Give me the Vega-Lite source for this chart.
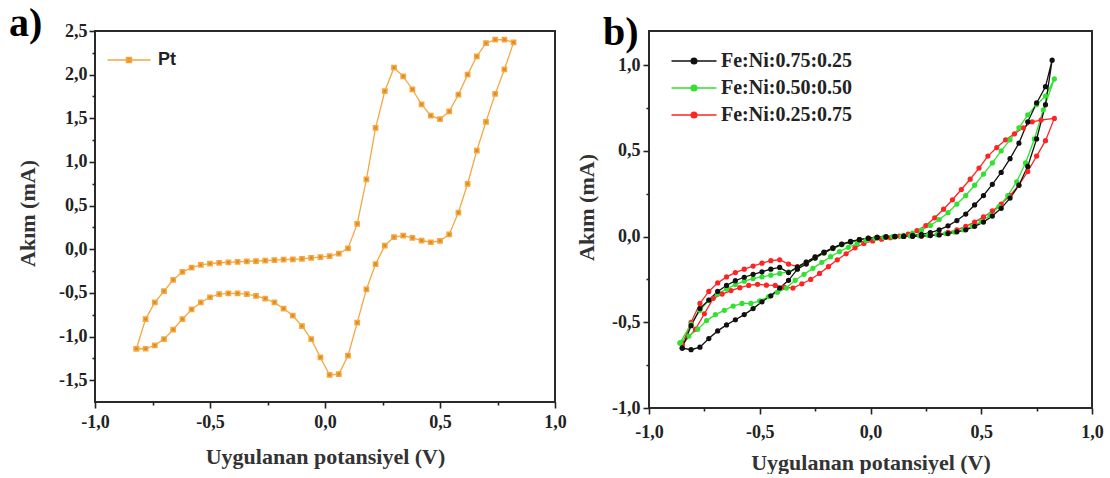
{
  "$schema": "https://vega.github.io/schema/vega-lite/v6.json",
  "background": "white",
  "padding": {"left": 8, "top": 3, "right": 0, "bottom": 0},
  "config": {
    "font": "Liberation Serif",
    "view": {"stroke": "#2a2a2a", "strokeWidth": 2},
    "axis": {
      "labelFont": "Liberation Serif", "labelFontSize": 18, "labelFontWeight": "bold", "labelColor": "#222",
      "titleFont": "Liberation Serif", "titleFontSize": 22, "titleFontWeight": "bold", "titleColor": "#333",
      "domain": false, "grid": false, "tickColor": "#222", "tickWidth": 1.6,
      "labelOverlap": false, "labelFlush": false, "labelBound": false
    },
    "legend": {
      "labelFont": "Liberation Serif", "labelFontSize": 20, "labelFontWeight": "bold", "labelColor": "#222",
      "padding": 0, "symbolStrokeWidth": 1.5
    },
    "title": {
      "font": "Liberation Serif", "fontSize": 40, "fontWeight": "bold", "color": "#000",
      "anchor": "start", "frame": "group", "baseline": "alphabetic"
    }
  },
  "datasets": {
    "pt": [
      {"s":"Pt","i":0,"v":-0.82,"c":-1.14},{"s":"Pt","i":1,"v":-0.78,"c":-0.80},{"s":"Pt","i":2,"v":-0.74,"c":-0.61},{"s":"Pt","i":3,"v":-0.70,"c":-0.48},
      {"s":"Pt","i":4,"v":-0.66,"c":-0.35},{"s":"Pt","i":5,"v":-0.62,"c":-0.26},{"s":"Pt","i":6,"v":-0.58,"c":-0.21},{"s":"Pt","i":7,"v":-0.54,"c":-0.18},
      {"s":"Pt","i":8,"v":-0.50,"c":-0.165},{"s":"Pt","i":9,"v":-0.46,"c":-0.155},{"s":"Pt","i":10,"v":-0.42,"c":-0.15},{"s":"Pt","i":11,"v":-0.38,"c":-0.145},
      {"s":"Pt","i":12,"v":-0.34,"c":-0.14},{"s":"Pt","i":13,"v":-0.30,"c":-0.135},{"s":"Pt","i":14,"v":-0.26,"c":-0.13},{"s":"Pt","i":15,"v":-0.22,"c":-0.125},
      {"s":"Pt","i":16,"v":-0.18,"c":-0.12},{"s":"Pt","i":17,"v":-0.14,"c":-0.115},{"s":"Pt","i":18,"v":-0.10,"c":-0.11},{"s":"Pt","i":19,"v":-0.06,"c":-0.10},
      {"s":"Pt","i":20,"v":-0.02,"c":-0.09},{"s":"Pt","i":21,"v":0.02,"c":-0.08},{"s":"Pt","i":22,"v":0.06,"c":-0.05},{"s":"Pt","i":23,"v":0.10,"c":0.01},
      {"s":"Pt","i":24,"v":0.14,"c":0.29},{"s":"Pt","i":25,"v":0.18,"c":0.80},{"s":"Pt","i":26,"v":0.22,"c":1.39},{"s":"Pt","i":27,"v":0.26,"c":1.81},
      {"s":"Pt","i":28,"v":0.30,"c":2.08},{"s":"Pt","i":29,"v":0.34,"c":1.98},{"s":"Pt","i":30,"v":0.38,"c":1.83},{"s":"Pt","i":31,"v":0.42,"c":1.66},
      {"s":"Pt","i":32,"v":0.46,"c":1.53},{"s":"Pt","i":33,"v":0.50,"c":1.49},{"s":"Pt","i":34,"v":0.54,"c":1.58},{"s":"Pt","i":35,"v":0.58,"c":1.77},
      {"s":"Pt","i":36,"v":0.62,"c":2.00},{"s":"Pt","i":37,"v":0.66,"c":2.21},{"s":"Pt","i":38,"v":0.70,"c":2.36},{"s":"Pt","i":39,"v":0.74,"c":2.40},
      {"s":"Pt","i":40,"v":0.78,"c":2.40},{"s":"Pt","i":41,"v":0.82,"c":2.37},{"s":"Pt","i":42,"v":0.78,"c":2.06},{"s":"Pt","i":43,"v":0.74,"c":1.78},
      {"s":"Pt","i":44,"v":0.70,"c":1.46},{"s":"Pt","i":45,"v":0.66,"c":1.13},{"s":"Pt","i":46,"v":0.62,"c":0.75},{"s":"Pt","i":47,"v":0.58,"c":0.42},
      {"s":"Pt","i":48,"v":0.54,"c":0.17},{"s":"Pt","i":49,"v":0.50,"c":0.095},{"s":"Pt","i":50,"v":0.46,"c":0.08},{"s":"Pt","i":51,"v":0.42,"c":0.10},
      {"s":"Pt","i":52,"v":0.38,"c":0.13},{"s":"Pt","i":53,"v":0.34,"c":0.155},{"s":"Pt","i":54,"v":0.30,"c":0.14},{"s":"Pt","i":55,"v":0.26,"c":0.04},
      {"s":"Pt","i":56,"v":0.22,"c":-0.17},{"s":"Pt","i":57,"v":0.18,"c":-0.46},{"s":"Pt","i":58,"v":0.14,"c":-0.84},{"s":"Pt","i":59,"v":0.10,"c":-1.22},
      {"s":"Pt","i":60,"v":0.06,"c":-1.43},{"s":"Pt","i":61,"v":0.02,"c":-1.44},{"s":"Pt","i":62,"v":-0.02,"c":-1.24},{"s":"Pt","i":63,"v":-0.06,"c":-1.03},
      {"s":"Pt","i":64,"v":-0.10,"c":-0.88},{"s":"Pt","i":65,"v":-0.14,"c":-0.76},{"s":"Pt","i":66,"v":-0.18,"c":-0.68},{"s":"Pt","i":67,"v":-0.22,"c":-0.61},
      {"s":"Pt","i":68,"v":-0.26,"c":-0.565},{"s":"Pt","i":69,"v":-0.30,"c":-0.535},{"s":"Pt","i":70,"v":-0.34,"c":-0.515},{"s":"Pt","i":71,"v":-0.38,"c":-0.505},
      {"s":"Pt","i":72,"v":-0.42,"c":-0.505},{"s":"Pt","i":73,"v":-0.46,"c":-0.515},{"s":"Pt","i":74,"v":-0.50,"c":-0.55},{"s":"Pt","i":75,"v":-0.54,"c":-0.61},
      {"s":"Pt","i":76,"v":-0.58,"c":-0.69},{"s":"Pt","i":77,"v":-0.62,"c":-0.80},{"s":"Pt","i":78,"v":-0.66,"c":-0.92},{"s":"Pt","i":79,"v":-0.70,"c":-1.03},
      {"s":"Pt","i":80,"v":-0.74,"c":-1.10},{"s":"Pt","i":81,"v":-0.78,"c":-1.14},{"s":"Pt","i":82,"v":-0.82,"c":-1.14}
    ],
    "feni": [
      {"s":"Fe:Ni:0.25:0.75","i":0,"v":-0.85,"c":-0.63},{"s":"Fe:Ni:0.25:0.75","i":1,"v":-0.81,"c":-0.50},{"s":"Fe:Ni:0.25:0.75","i":2,"v":-0.77,"c":-0.39},
      {"s":"Fe:Ni:0.25:0.75","i":3,"v":-0.73,"c":-0.32},{"s":"Fe:Ni:0.25:0.75","i":4,"v":-0.69,"c":-0.27},{"s":"Fe:Ni:0.25:0.75","i":5,"v":-0.65,"c":-0.235},
      {"s":"Fe:Ni:0.25:0.75","i":6,"v":-0.61,"c":-0.21},{"s":"Fe:Ni:0.25:0.75","i":7,"v":-0.57,"c":-0.19},{"s":"Fe:Ni:0.25:0.75","i":8,"v":-0.53,"c":-0.172},
      {"s":"Fe:Ni:0.25:0.75","i":9,"v":-0.49,"c":-0.155},{"s":"Fe:Ni:0.25:0.75","i":10,"v":-0.45,"c":-0.14},{"s":"Fe:Ni:0.25:0.75","i":11,"v":-0.41,"c":-0.135},
      {"s":"Fe:Ni:0.25:0.75","i":12,"v":-0.37,"c":-0.16},{"s":"Fe:Ni:0.25:0.75","i":13,"v":-0.33,"c":-0.175},{"s":"Fe:Ni:0.25:0.75","i":14,"v":-0.29,"c":-0.148},
      {"s":"Fe:Ni:0.25:0.75","i":15,"v":-0.25,"c":-0.12},{"s":"Fe:Ni:0.25:0.75","i":16,"v":-0.21,"c":-0.093},{"s":"Fe:Ni:0.25:0.75","i":17,"v":-0.17,"c":-0.067},
      {"s":"Fe:Ni:0.25:0.75","i":18,"v":-0.13,"c":-0.045},{"s":"Fe:Ni:0.25:0.75","i":19,"v":-0.09,"c":-0.03},{"s":"Fe:Ni:0.25:0.75","i":20,"v":-0.05,"c":-0.018},
      {"s":"Fe:Ni:0.25:0.75","i":21,"v":-0.01,"c":-0.01},{"s":"Fe:Ni:0.25:0.75","i":22,"v":0.03,"c":-0.005},{"s":"Fe:Ni:0.25:0.75","i":23,"v":0.07,"c":-0.002},
      {"s":"Fe:Ni:0.25:0.75","i":24,"v":0.11,"c":0.0},{"s":"Fe:Ni:0.25:0.75","i":25,"v":0.15,"c":0.001},{"s":"Fe:Ni:0.25:0.75","i":26,"v":0.19,"c":0.002},
      {"s":"Fe:Ni:0.25:0.75","i":27,"v":0.23,"c":0.004},{"s":"Fe:Ni:0.25:0.75","i":28,"v":0.27,"c":0.008},{"s":"Fe:Ni:0.25:0.75","i":29,"v":0.31,"c":0.015},
      {"s":"Fe:Ni:0.25:0.75","i":30,"v":0.35,"c":0.025},{"s":"Fe:Ni:0.25:0.75","i":31,"v":0.39,"c":0.04},{"s":"Fe:Ni:0.25:0.75","i":32,"v":0.43,"c":0.06},
      {"s":"Fe:Ni:0.25:0.75","i":33,"v":0.47,"c":0.085},{"s":"Fe:Ni:0.25:0.75","i":34,"v":0.51,"c":0.115},{"s":"Fe:Ni:0.25:0.75","i":35,"v":0.55,"c":0.15},
      {"s":"Fe:Ni:0.25:0.75","i":36,"v":0.59,"c":0.19},{"s":"Fe:Ni:0.25:0.75","i":37,"v":0.63,"c":0.24},{"s":"Fe:Ni:0.25:0.75","i":38,"v":0.67,"c":0.30},
      {"s":"Fe:Ni:0.25:0.75","i":39,"v":0.71,"c":0.38},{"s":"Fe:Ni:0.25:0.75","i":40,"v":0.75,"c":0.47},{"s":"Fe:Ni:0.25:0.75","i":41,"v":0.79,"c":0.56},
      {"s":"Fe:Ni:0.25:0.75","i":42,"v":0.83,"c":0.69},{"s":"Fe:Ni:0.25:0.75","i":43,"v":0.77,"c":0.68},{"s":"Fe:Ni:0.25:0.75","i":44,"v":0.73,"c":0.67},
      {"s":"Fe:Ni:0.25:0.75","i":45,"v":0.69,"c":0.635},{"s":"Fe:Ni:0.25:0.75","i":46,"v":0.65,"c":0.60},{"s":"Fe:Ni:0.25:0.75","i":47,"v":0.61,"c":0.565},
      {"s":"Fe:Ni:0.25:0.75","i":48,"v":0.57,"c":0.52},{"s":"Fe:Ni:0.25:0.75","i":49,"v":0.53,"c":0.47},{"s":"Fe:Ni:0.25:0.75","i":50,"v":0.49,"c":0.40},
      {"s":"Fe:Ni:0.25:0.75","i":51,"v":0.45,"c":0.335},{"s":"Fe:Ni:0.25:0.75","i":52,"v":0.41,"c":0.275},{"s":"Fe:Ni:0.25:0.75","i":53,"v":0.37,"c":0.215},
      {"s":"Fe:Ni:0.25:0.75","i":54,"v":0.33,"c":0.16},{"s":"Fe:Ni:0.25:0.75","i":55,"v":0.29,"c":0.11},{"s":"Fe:Ni:0.25:0.75","i":56,"v":0.25,"c":0.065},
      {"s":"Fe:Ni:0.25:0.75","i":57,"v":0.21,"c":0.035},{"s":"Fe:Ni:0.25:0.75","i":58,"v":0.17,"c":0.015},{"s":"Fe:Ni:0.25:0.75","i":59,"v":0.13,"c":0.003},
      {"s":"Fe:Ni:0.25:0.75","i":60,"v":0.09,"c":-0.006},{"s":"Fe:Ni:0.25:0.75","i":61,"v":0.05,"c":-0.015},{"s":"Fe:Ni:0.25:0.75","i":62,"v":0.01,"c":-0.025},
      {"s":"Fe:Ni:0.25:0.75","i":63,"v":-0.03,"c":-0.04},{"s":"Fe:Ni:0.25:0.75","i":64,"v":-0.07,"c":-0.065},{"s":"Fe:Ni:0.25:0.75","i":65,"v":-0.11,"c":-0.10},
      {"s":"Fe:Ni:0.25:0.75","i":66,"v":-0.15,"c":-0.135},{"s":"Fe:Ni:0.25:0.75","i":67,"v":-0.19,"c":-0.175},{"s":"Fe:Ni:0.25:0.75","i":68,"v":-0.23,"c":-0.215},
      {"s":"Fe:Ni:0.25:0.75","i":69,"v":-0.27,"c":-0.25},{"s":"Fe:Ni:0.25:0.75","i":70,"v":-0.31,"c":-0.275},{"s":"Fe:Ni:0.25:0.75","i":71,"v":-0.35,"c":-0.30},
      {"s":"Fe:Ni:0.25:0.75","i":72,"v":-0.39,"c":-0.295},{"s":"Fe:Ni:0.25:0.75","i":73,"v":-0.43,"c":-0.285},{"s":"Fe:Ni:0.25:0.75","i":74,"v":-0.47,"c":-0.283},
      {"s":"Fe:Ni:0.25:0.75","i":75,"v":-0.51,"c":-0.278},{"s":"Fe:Ni:0.25:0.75","i":76,"v":-0.55,"c":-0.285},{"s":"Fe:Ni:0.25:0.75","i":77,"v":-0.59,"c":-0.298},
      {"s":"Fe:Ni:0.25:0.75","i":78,"v":-0.63,"c":-0.315},{"s":"Fe:Ni:0.25:0.75","i":79,"v":-0.67,"c":-0.335},{"s":"Fe:Ni:0.25:0.75","i":80,"v":-0.71,"c":-0.36},
      {"s":"Fe:Ni:0.25:0.75","i":81,"v":-0.75,"c":-0.45},{"s":"Fe:Ni:0.25:0.75","i":82,"v":-0.79,"c":-0.54},{"s":"Fe:Ni:0.25:0.75","i":83,"v":-0.85,"c":-0.63},

      {"s":"Fe:Ni:0.50:0.50","i":0,"v":-0.86,"c":-0.62},{"s":"Fe:Ni:0.50:0.50","i":1,"v":-0.82,"c":-0.58},{"s":"Fe:Ni:0.50:0.50","i":2,"v":-0.78,"c":-0.54},
      {"s":"Fe:Ni:0.50:0.50","i":3,"v":-0.74,"c":-0.49},{"s":"Fe:Ni:0.50:0.50","i":4,"v":-0.70,"c":-0.455},{"s":"Fe:Ni:0.50:0.50","i":5,"v":-0.66,"c":-0.43},
      {"s":"Fe:Ni:0.50:0.50","i":6,"v":-0.62,"c":-0.405},{"s":"Fe:Ni:0.50:0.50","i":7,"v":-0.58,"c":-0.39},{"s":"Fe:Ni:0.50:0.50","i":8,"v":-0.54,"c":-0.39},
      {"s":"Fe:Ni:0.50:0.50","i":9,"v":-0.50,"c":-0.375},{"s":"Fe:Ni:0.50:0.50","i":10,"v":-0.46,"c":-0.35},{"s":"Fe:Ni:0.50:0.50","i":11,"v":-0.42,"c":-0.325},
      {"s":"Fe:Ni:0.50:0.50","i":12,"v":-0.38,"c":-0.30},{"s":"Fe:Ni:0.50:0.50","i":13,"v":-0.34,"c":-0.255},{"s":"Fe:Ni:0.50:0.50","i":14,"v":-0.30,"c":-0.22},
      {"s":"Fe:Ni:0.50:0.50","i":15,"v":-0.26,"c":-0.185},{"s":"Fe:Ni:0.50:0.50","i":16,"v":-0.22,"c":-0.15},{"s":"Fe:Ni:0.50:0.50","i":17,"v":-0.18,"c":-0.117},
      {"s":"Fe:Ni:0.50:0.50","i":18,"v":-0.14,"c":-0.087},{"s":"Fe:Ni:0.50:0.50","i":19,"v":-0.10,"c":-0.062},{"s":"Fe:Ni:0.50:0.50","i":20,"v":-0.06,"c":-0.04},
      {"s":"Fe:Ni:0.50:0.50","i":21,"v":-0.02,"c":-0.022},{"s":"Fe:Ni:0.50:0.50","i":22,"v":0.02,"c":-0.01},{"s":"Fe:Ni:0.50:0.50","i":23,"v":0.06,"c":-0.004},
      {"s":"Fe:Ni:0.50:0.50","i":24,"v":0.10,"c":0.0},{"s":"Fe:Ni:0.50:0.50","i":25,"v":0.14,"c":0.002},{"s":"Fe:Ni:0.50:0.50","i":26,"v":0.18,"c":0.004},
      {"s":"Fe:Ni:0.50:0.50","i":27,"v":0.22,"c":0.006},{"s":"Fe:Ni:0.50:0.50","i":28,"v":0.26,"c":0.008},{"s":"Fe:Ni:0.50:0.50","i":29,"v":0.30,"c":0.012},
      {"s":"Fe:Ni:0.50:0.50","i":30,"v":0.34,"c":0.018},{"s":"Fe:Ni:0.50:0.50","i":31,"v":0.38,"c":0.027},{"s":"Fe:Ni:0.50:0.50","i":32,"v":0.42,"c":0.04},
      {"s":"Fe:Ni:0.50:0.50","i":33,"v":0.46,"c":0.06},{"s":"Fe:Ni:0.50:0.50","i":34,"v":0.50,"c":0.088},{"s":"Fe:Ni:0.50:0.50","i":35,"v":0.54,"c":0.125},
      {"s":"Fe:Ni:0.50:0.50","i":36,"v":0.58,"c":0.175},{"s":"Fe:Ni:0.50:0.50","i":37,"v":0.62,"c":0.24},{"s":"Fe:Ni:0.50:0.50","i":38,"v":0.66,"c":0.32},
      {"s":"Fe:Ni:0.50:0.50","i":39,"v":0.70,"c":0.43},{"s":"Fe:Ni:0.50:0.50","i":40,"v":0.74,"c":0.57},{"s":"Fe:Ni:0.50:0.50","i":41,"v":0.78,"c":0.74},
      {"s":"Fe:Ni:0.50:0.50","i":42,"v":0.83,"c":0.92},{"s":"Fe:Ni:0.50:0.50","i":43,"v":0.79,"c":0.82},{"s":"Fe:Ni:0.50:0.50","i":44,"v":0.75,"c":0.77},
      {"s":"Fe:Ni:0.50:0.50","i":45,"v":0.71,"c":0.71},{"s":"Fe:Ni:0.50:0.50","i":46,"v":0.67,"c":0.635},{"s":"Fe:Ni:0.50:0.50","i":47,"v":0.63,"c":0.565},
      {"s":"Fe:Ni:0.50:0.50","i":48,"v":0.59,"c":0.50},{"s":"Fe:Ni:0.50:0.50","i":49,"v":0.55,"c":0.43},{"s":"Fe:Ni:0.50:0.50","i":50,"v":0.51,"c":0.365},
      {"s":"Fe:Ni:0.50:0.50","i":51,"v":0.47,"c":0.30},{"s":"Fe:Ni:0.50:0.50","i":52,"v":0.43,"c":0.24},{"s":"Fe:Ni:0.50:0.50","i":53,"v":0.39,"c":0.19},
      {"s":"Fe:Ni:0.50:0.50","i":54,"v":0.35,"c":0.14},{"s":"Fe:Ni:0.50:0.50","i":55,"v":0.31,"c":0.10},{"s":"Fe:Ni:0.50:0.50","i":56,"v":0.27,"c":0.065},
      {"s":"Fe:Ni:0.50:0.50","i":57,"v":0.23,"c":0.038},{"s":"Fe:Ni:0.50:0.50","i":58,"v":0.19,"c":0.02},{"s":"Fe:Ni:0.50:0.50","i":59,"v":0.15,"c":0.008},
      {"s":"Fe:Ni:0.50:0.50","i":60,"v":0.11,"c":0.002},{"s":"Fe:Ni:0.50:0.50","i":61,"v":0.07,"c":-0.002},{"s":"Fe:Ni:0.50:0.50","i":62,"v":0.03,"c":-0.006},
      {"s":"Fe:Ni:0.50:0.50","i":63,"v":-0.01,"c":-0.012},{"s":"Fe:Ni:0.50:0.50","i":64,"v":-0.05,"c":-0.02},{"s":"Fe:Ni:0.50:0.50","i":65,"v":-0.09,"c":-0.032},
      {"s":"Fe:Ni:0.50:0.50","i":66,"v":-0.13,"c":-0.048},{"s":"Fe:Ni:0.50:0.50","i":67,"v":-0.17,"c":-0.07},{"s":"Fe:Ni:0.50:0.50","i":68,"v":-0.21,"c":-0.095},
      {"s":"Fe:Ni:0.50:0.50","i":69,"v":-0.25,"c":-0.125},{"s":"Fe:Ni:0.50:0.50","i":70,"v":-0.29,"c":-0.155},{"s":"Fe:Ni:0.50:0.50","i":71,"v":-0.33,"c":-0.185},
      {"s":"Fe:Ni:0.50:0.50","i":72,"v":-0.37,"c":-0.205},{"s":"Fe:Ni:0.50:0.50","i":73,"v":-0.41,"c":-0.215},{"s":"Fe:Ni:0.50:0.50","i":74,"v":-0.45,"c":-0.225},
      {"s":"Fe:Ni:0.50:0.50","i":75,"v":-0.49,"c":-0.235},{"s":"Fe:Ni:0.50:0.50","i":76,"v":-0.53,"c":-0.245},{"s":"Fe:Ni:0.50:0.50","i":77,"v":-0.57,"c":-0.26},
      {"s":"Fe:Ni:0.50:0.50","i":78,"v":-0.61,"c":-0.28},{"s":"Fe:Ni:0.50:0.50","i":79,"v":-0.65,"c":-0.305},{"s":"Fe:Ni:0.50:0.50","i":80,"v":-0.69,"c":-0.335},
      {"s":"Fe:Ni:0.50:0.50","i":81,"v":-0.73,"c":-0.37},{"s":"Fe:Ni:0.50:0.50","i":82,"v":-0.77,"c":-0.43},{"s":"Fe:Ni:0.50:0.50","i":83,"v":-0.81,"c":-0.51},
      {"s":"Fe:Ni:0.50:0.50","i":84,"v":-0.86,"c":-0.62},

      {"s":"Fe:Ni:0.75:0.25","i":0,"v":-0.85,"c":-0.65},{"s":"Fe:Ni:0.75:0.25","i":1,"v":-0.81,"c":-0.66},{"s":"Fe:Ni:0.75:0.25","i":2,"v":-0.77,"c":-0.645},
      {"s":"Fe:Ni:0.75:0.25","i":3,"v":-0.73,"c":-0.595},{"s":"Fe:Ni:0.75:0.25","i":4,"v":-0.69,"c":-0.55},{"s":"Fe:Ni:0.75:0.25","i":5,"v":-0.65,"c":-0.515},
      {"s":"Fe:Ni:0.75:0.25","i":6,"v":-0.61,"c":-0.485},{"s":"Fe:Ni:0.75:0.25","i":7,"v":-0.57,"c":-0.455},{"s":"Fe:Ni:0.75:0.25","i":8,"v":-0.53,"c":-0.42},
      {"s":"Fe:Ni:0.75:0.25","i":9,"v":-0.49,"c":-0.38},{"s":"Fe:Ni:0.75:0.25","i":10,"v":-0.45,"c":-0.345},{"s":"Fe:Ni:0.75:0.25","i":11,"v":-0.41,"c":-0.30},
      {"s":"Fe:Ni:0.75:0.25","i":12,"v":-0.37,"c":-0.255},{"s":"Fe:Ni:0.75:0.25","i":13,"v":-0.33,"c":-0.19},{"s":"Fe:Ni:0.75:0.25","i":14,"v":-0.29,"c":-0.16},
      {"s":"Fe:Ni:0.75:0.25","i":15,"v":-0.25,"c":-0.125},{"s":"Fe:Ni:0.75:0.25","i":16,"v":-0.21,"c":-0.095},{"s":"Fe:Ni:0.75:0.25","i":17,"v":-0.17,"c":-0.068},
      {"s":"Fe:Ni:0.75:0.25","i":18,"v":-0.13,"c":-0.045},{"s":"Fe:Ni:0.75:0.25","i":19,"v":-0.09,"c":-0.03},{"s":"Fe:Ni:0.75:0.25","i":20,"v":-0.05,"c":-0.018},
      {"s":"Fe:Ni:0.75:0.25","i":21,"v":-0.01,"c":-0.01},{"s":"Fe:Ni:0.75:0.25","i":22,"v":0.03,"c":-0.005},{"s":"Fe:Ni:0.75:0.25","i":23,"v":0.07,"c":-0.002},
      {"s":"Fe:Ni:0.75:0.25","i":24,"v":0.11,"c":0.0},{"s":"Fe:Ni:0.75:0.25","i":25,"v":0.15,"c":0.001},{"s":"Fe:Ni:0.75:0.25","i":26,"v":0.19,"c":0.002},
      {"s":"Fe:Ni:0.75:0.25","i":27,"v":0.23,"c":0.003},{"s":"Fe:Ni:0.75:0.25","i":28,"v":0.27,"c":0.006},{"s":"Fe:Ni:0.75:0.25","i":29,"v":0.31,"c":0.01},
      {"s":"Fe:Ni:0.75:0.25","i":30,"v":0.35,"c":0.018},{"s":"Fe:Ni:0.75:0.25","i":31,"v":0.39,"c":0.028},{"s":"Fe:Ni:0.75:0.25","i":32,"v":0.43,"c":0.04},
      {"s":"Fe:Ni:0.75:0.25","i":33,"v":0.47,"c":0.06},{"s":"Fe:Ni:0.75:0.25","i":34,"v":0.51,"c":0.085},{"s":"Fe:Ni:0.75:0.25","i":35,"v":0.55,"c":0.12},
      {"s":"Fe:Ni:0.75:0.25","i":36,"v":0.59,"c":0.165},{"s":"Fe:Ni:0.75:0.25","i":37,"v":0.63,"c":0.225},{"s":"Fe:Ni:0.75:0.25","i":38,"v":0.67,"c":0.30},
      {"s":"Fe:Ni:0.75:0.25","i":39,"v":0.71,"c":0.41},{"s":"Fe:Ni:0.75:0.25","i":40,"v":0.75,"c":0.57},{"s":"Fe:Ni:0.75:0.25","i":41,"v":0.79,"c":0.77},
      {"s":"Fe:Ni:0.75:0.25","i":42,"v":0.82,"c":1.03},{"s":"Fe:Ni:0.75:0.25","i":43,"v":0.79,"c":0.875},{"s":"Fe:Ni:0.75:0.25","i":44,"v":0.75,"c":0.78},
      {"s":"Fe:Ni:0.75:0.25","i":45,"v":0.71,"c":0.67},{"s":"Fe:Ni:0.75:0.25","i":46,"v":0.67,"c":0.545},{"s":"Fe:Ni:0.75:0.25","i":47,"v":0.63,"c":0.455},
      {"s":"Fe:Ni:0.75:0.25","i":48,"v":0.59,"c":0.375},{"s":"Fe:Ni:0.75:0.25","i":49,"v":0.55,"c":0.305},{"s":"Fe:Ni:0.75:0.25","i":50,"v":0.51,"c":0.24},
      {"s":"Fe:Ni:0.75:0.25","i":51,"v":0.47,"c":0.185},{"s":"Fe:Ni:0.75:0.25","i":52,"v":0.43,"c":0.132},{"s":"Fe:Ni:0.75:0.25","i":53,"v":0.39,"c":0.094},
      {"s":"Fe:Ni:0.75:0.25","i":54,"v":0.35,"c":0.063},{"s":"Fe:Ni:0.75:0.25","i":55,"v":0.31,"c":0.04},{"s":"Fe:Ni:0.75:0.25","i":56,"v":0.27,"c":0.024},
      {"s":"Fe:Ni:0.75:0.25","i":57,"v":0.23,"c":0.013},{"s":"Fe:Ni:0.75:0.25","i":58,"v":0.19,"c":0.007},{"s":"Fe:Ni:0.75:0.25","i":59,"v":0.15,"c":0.003},
      {"s":"Fe:Ni:0.75:0.25","i":60,"v":0.11,"c":0.001},{"s":"Fe:Ni:0.75:0.25","i":61,"v":0.07,"c":-0.001},{"s":"Fe:Ni:0.75:0.25","i":62,"v":0.03,"c":-0.004},
      {"s":"Fe:Ni:0.75:0.25","i":63,"v":-0.01,"c":-0.009},{"s":"Fe:Ni:0.75:0.25","i":64,"v":-0.05,"c":-0.017},{"s":"Fe:Ni:0.75:0.25","i":65,"v":-0.09,"c":-0.028},
      {"s":"Fe:Ni:0.75:0.25","i":66,"v":-0.13,"c":-0.043},{"s":"Fe:Ni:0.75:0.25","i":67,"v":-0.17,"c":-0.065},{"s":"Fe:Ni:0.75:0.25","i":68,"v":-0.21,"c":-0.09},
      {"s":"Fe:Ni:0.75:0.25","i":69,"v":-0.25,"c":-0.118},{"s":"Fe:Ni:0.75:0.25","i":70,"v":-0.29,"c":-0.148},{"s":"Fe:Ni:0.75:0.25","i":71,"v":-0.33,"c":-0.178},
      {"s":"Fe:Ni:0.75:0.25","i":72,"v":-0.37,"c":-0.21},{"s":"Fe:Ni:0.75:0.25","i":73,"v":-0.41,"c":-0.18},{"s":"Fe:Ni:0.75:0.25","i":74,"v":-0.45,"c":-0.19},
      {"s":"Fe:Ni:0.75:0.25","i":75,"v":-0.49,"c":-0.205},{"s":"Fe:Ni:0.75:0.25","i":76,"v":-0.53,"c":-0.22},{"s":"Fe:Ni:0.75:0.25","i":77,"v":-0.57,"c":-0.237},
      {"s":"Fe:Ni:0.75:0.25","i":78,"v":-0.61,"c":-0.257},{"s":"Fe:Ni:0.75:0.25","i":79,"v":-0.65,"c":-0.285},{"s":"Fe:Ni:0.75:0.25","i":80,"v":-0.69,"c":-0.32},
      {"s":"Fe:Ni:0.75:0.25","i":81,"v":-0.73,"c":-0.37},{"s":"Fe:Ni:0.75:0.25","i":82,"v":-0.77,"c":-0.42},{"s":"Fe:Ni:0.75:0.25","i":83,"v":-0.81,"c":-0.52},
      {"s":"Fe:Ni:0.75:0.25","i":84,"v":-0.85,"c":-0.65}
    ]
  },
  "spacing": 94,
  "bounds": "flush",
  "resolve": {"scale": {"fill": "independent", "stroke": "independent"}, "legend": {"fill": "independent", "stroke": "independent"}},
  "hconcat": [
    {
      "width": 460,
      "height": 371,
      "title": {"text": "a)", "dx": -86, "offset": -22},
      "data": {"name": "pt"},
      "encoding": {
        "x": {
          "field": "v", "type": "quantitative",
          "scale": {"domain": [-1, 1], "nice": false, "zero": false},
          "axis": {
            "title": "Uygulanan potansiyel (V)",
            "values": [-1, -0.75, -0.5, -0.25, 0, 0.25, 0.5, 0.75, 1],
            "labelExpr": "abs(datum.value*2 - round(datum.value*2)) > 0.001 ? '' : (datum.value < 0 ? '-' : '') + replace(format(abs(datum.value), '.1f'), '.', ',')",
            "tickSize": {"condition": {"test": "abs(datum.value*2 - round(datum.value*2)) < 0.001", "value": 6}, "value": 3},
            "labelPadding": 5,
            "titleY": 44
          }
        },
        "y": {
          "field": "c", "type": "quantitative",
          "scale": {"domain": [-1.75, 2.5], "nice": false, "zero": false},
          "axis": {
            "title": "Akım (mA)",
            "values": [-1.5, -1.25, -1, -0.75, -0.5, -0.25, 0, 0.25, 0.5, 0.75, 1, 1.25, 1.5, 1.75, 2, 2.25, 2.5],
            "labelExpr": "abs(datum.value*2 - round(datum.value*2)) > 0.001 ? '' : (datum.value < 0 ? '-' : '') + replace(format(abs(datum.value), '.1f'), '.', ',')",
            "tickSize": {"condition": {"test": "abs(datum.value*2 - round(datum.value*2)) < 0.001", "value": 6}, "value": 3},
            "labelPadding": 2,
            "titleX": -56,
            "titleY": 182
          }
        }
      },
      "layer": [
        {
          "mark": {"type": "line", "strokeWidth": 1.3},
          "encoding": {
            "stroke": {"field": "s", "type": "nominal", "scale": {"domain": ["Pt"], "range": ["#F5A742"]},
              "legend": {"orient": "none", "title": null, "legendX": 23, "legendY": 18, "symbolType": "M-2.15,0H2.15M-0.25,-0.25H0.25V0.25H-0.25Z", "symbolSize": 400, "labelOffset": 18, "labelFont": "Liberation Sans", "labelFontSize": 18}},
            "order": {"field": "i", "type": "quantitative"}
          }
        },
        {
          "mark": {"type": "point", "shape": "square", "filled": true, "size": 18, "strokeWidth": 1.5, "opacity": 1},
          "encoding": {
            "fill": {"field": "s", "type": "nominal", "scale": {"domain": ["Pt"], "range": ["#E08A1E"]},
              "legend": {"orient": "none", "title": null, "legendX": 23, "legendY": 18, "symbolType": "M-2.15,0H2.15M-0.25,-0.25H0.25V0.25H-0.25Z", "symbolSize": 400, "labelOffset": 18, "labelFont": "Liberation Sans", "labelFontSize": 18}},
            "stroke": {"field": "s", "type": "nominal", "scale": {"domain": ["Pt"], "range": ["#F5A742"]},
              "legend": {"orient": "none", "title": null, "legendX": 23, "legendY": 18, "symbolType": "M-2.15,0H2.15M-0.25,-0.25H0.25V0.25H-0.25Z", "symbolSize": 400, "labelOffset": 18, "labelFont": "Liberation Sans", "labelFontSize": 18}}
          }
        }
      ]
    },
    {
      "width": 443,
      "height": 377,
      "title": {"text": "b)", "dx": -46, "offset": -22},
      "data": {"name": "feni"},
      "encoding": {
        "x": {
          "field": "v", "type": "quantitative",
          "scale": {"domain": [-1, 1], "nice": false, "zero": false},
          "axis": {
            "title": "Uygulanan potansiyel (V)",
            "values": [-1, -0.75, -0.5, -0.25, 0, 0.25, 0.5, 0.75, 1],
            "labelExpr": "abs(datum.value*2 - round(datum.value*2)) > 0.001 ? '' : (datum.value < 0 ? '-' : '') + replace(format(abs(datum.value), '.1f'), '.', ',')",
            "tickSize": {"condition": {"test": "abs(datum.value*2 - round(datum.value*2)) < 0.001", "value": 6}, "value": 3},
            "labelPadding": 9,
            "titleY": 44
          }
        },
        "y": {
          "field": "c", "type": "quantitative",
          "scale": {"domain": [-1, 1.2], "nice": false, "zero": false},
          "axis": {
            "title": "Akım (mA)",
            "values": [-1, -0.75, -0.5, -0.25, 0, 0.25, 0.5, 0.75, 1],
            "labelExpr": "abs(datum.value*2 - round(datum.value*2)) > 0.001 ? '' : (datum.value < 0 ? '-' : '') + replace(format(abs(datum.value), '.1f'), '.', ',')",
            "tickSize": {"condition": {"test": "abs(datum.value*2 - round(datum.value*2)) < 0.001", "value": 6}, "value": 3},
            "labelPadding": 3,
            "titleX": -51,
            "titleY": 176
          }
        }
      },
      "layer": [
        {
          "mark": {"type": "line", "strokeWidth": 1.3},
          "encoding": {
            "stroke": {"field": "s", "type": "nominal",
              "scale": {"domain": ["Fe:Ni:0.75:0.25", "Fe:Ni:0.50:0.50", "Fe:Ni:0.25:0.75"], "range": ["#111111", "#2fe22f", "#ff2424"]},
              "legend": {"orient": "none", "title": null, "legendX": 34, "legendY": 19, "symbolType": "M-2.25,0H2.25M0.28,0A0.28,0.28,0,1,1,-0.28,0A0.28,0.28,0,1,1,0.28,0Z", "symbolSize": 400, "labelOffset": 16, "rowPadding": 6}},
            "order": {"field": "i", "type": "quantitative"}
          }
        },
        {
          "mark": {"type": "point", "shape": "circle", "filled": true, "size": 14, "strokeWidth": 1.5, "opacity": 1},
          "encoding": {
            "fill": {"field": "s", "type": "nominal",
              "scale": {"domain": ["Fe:Ni:0.75:0.25", "Fe:Ni:0.50:0.50", "Fe:Ni:0.25:0.75"], "range": ["#111111", "#2fe22f", "#ff2424"]},
              "legend": {"orient": "none", "title": null, "legendX": 34, "legendY": 19, "symbolType": "M-2.25,0H2.25M0.28,0A0.28,0.28,0,1,1,-0.28,0A0.28,0.28,0,1,1,0.28,0Z", "symbolSize": 400, "labelOffset": 16, "rowPadding": 6}},
            "stroke": {"field": "s", "type": "nominal",
              "scale": {"domain": ["Fe:Ni:0.75:0.25", "Fe:Ni:0.50:0.50", "Fe:Ni:0.25:0.75"], "range": ["#111111", "#2fe22f", "#ff2424"]},
              "legend": {"orient": "none", "title": null, "legendX": 34, "legendY": 19, "symbolType": "M-2.25,0H2.25M0.28,0A0.28,0.28,0,1,1,-0.28,0A0.28,0.28,0,1,1,0.28,0Z", "symbolSize": 400, "labelOffset": 16, "rowPadding": 6}}
          }
        }
      ]
    }
  ]
}
